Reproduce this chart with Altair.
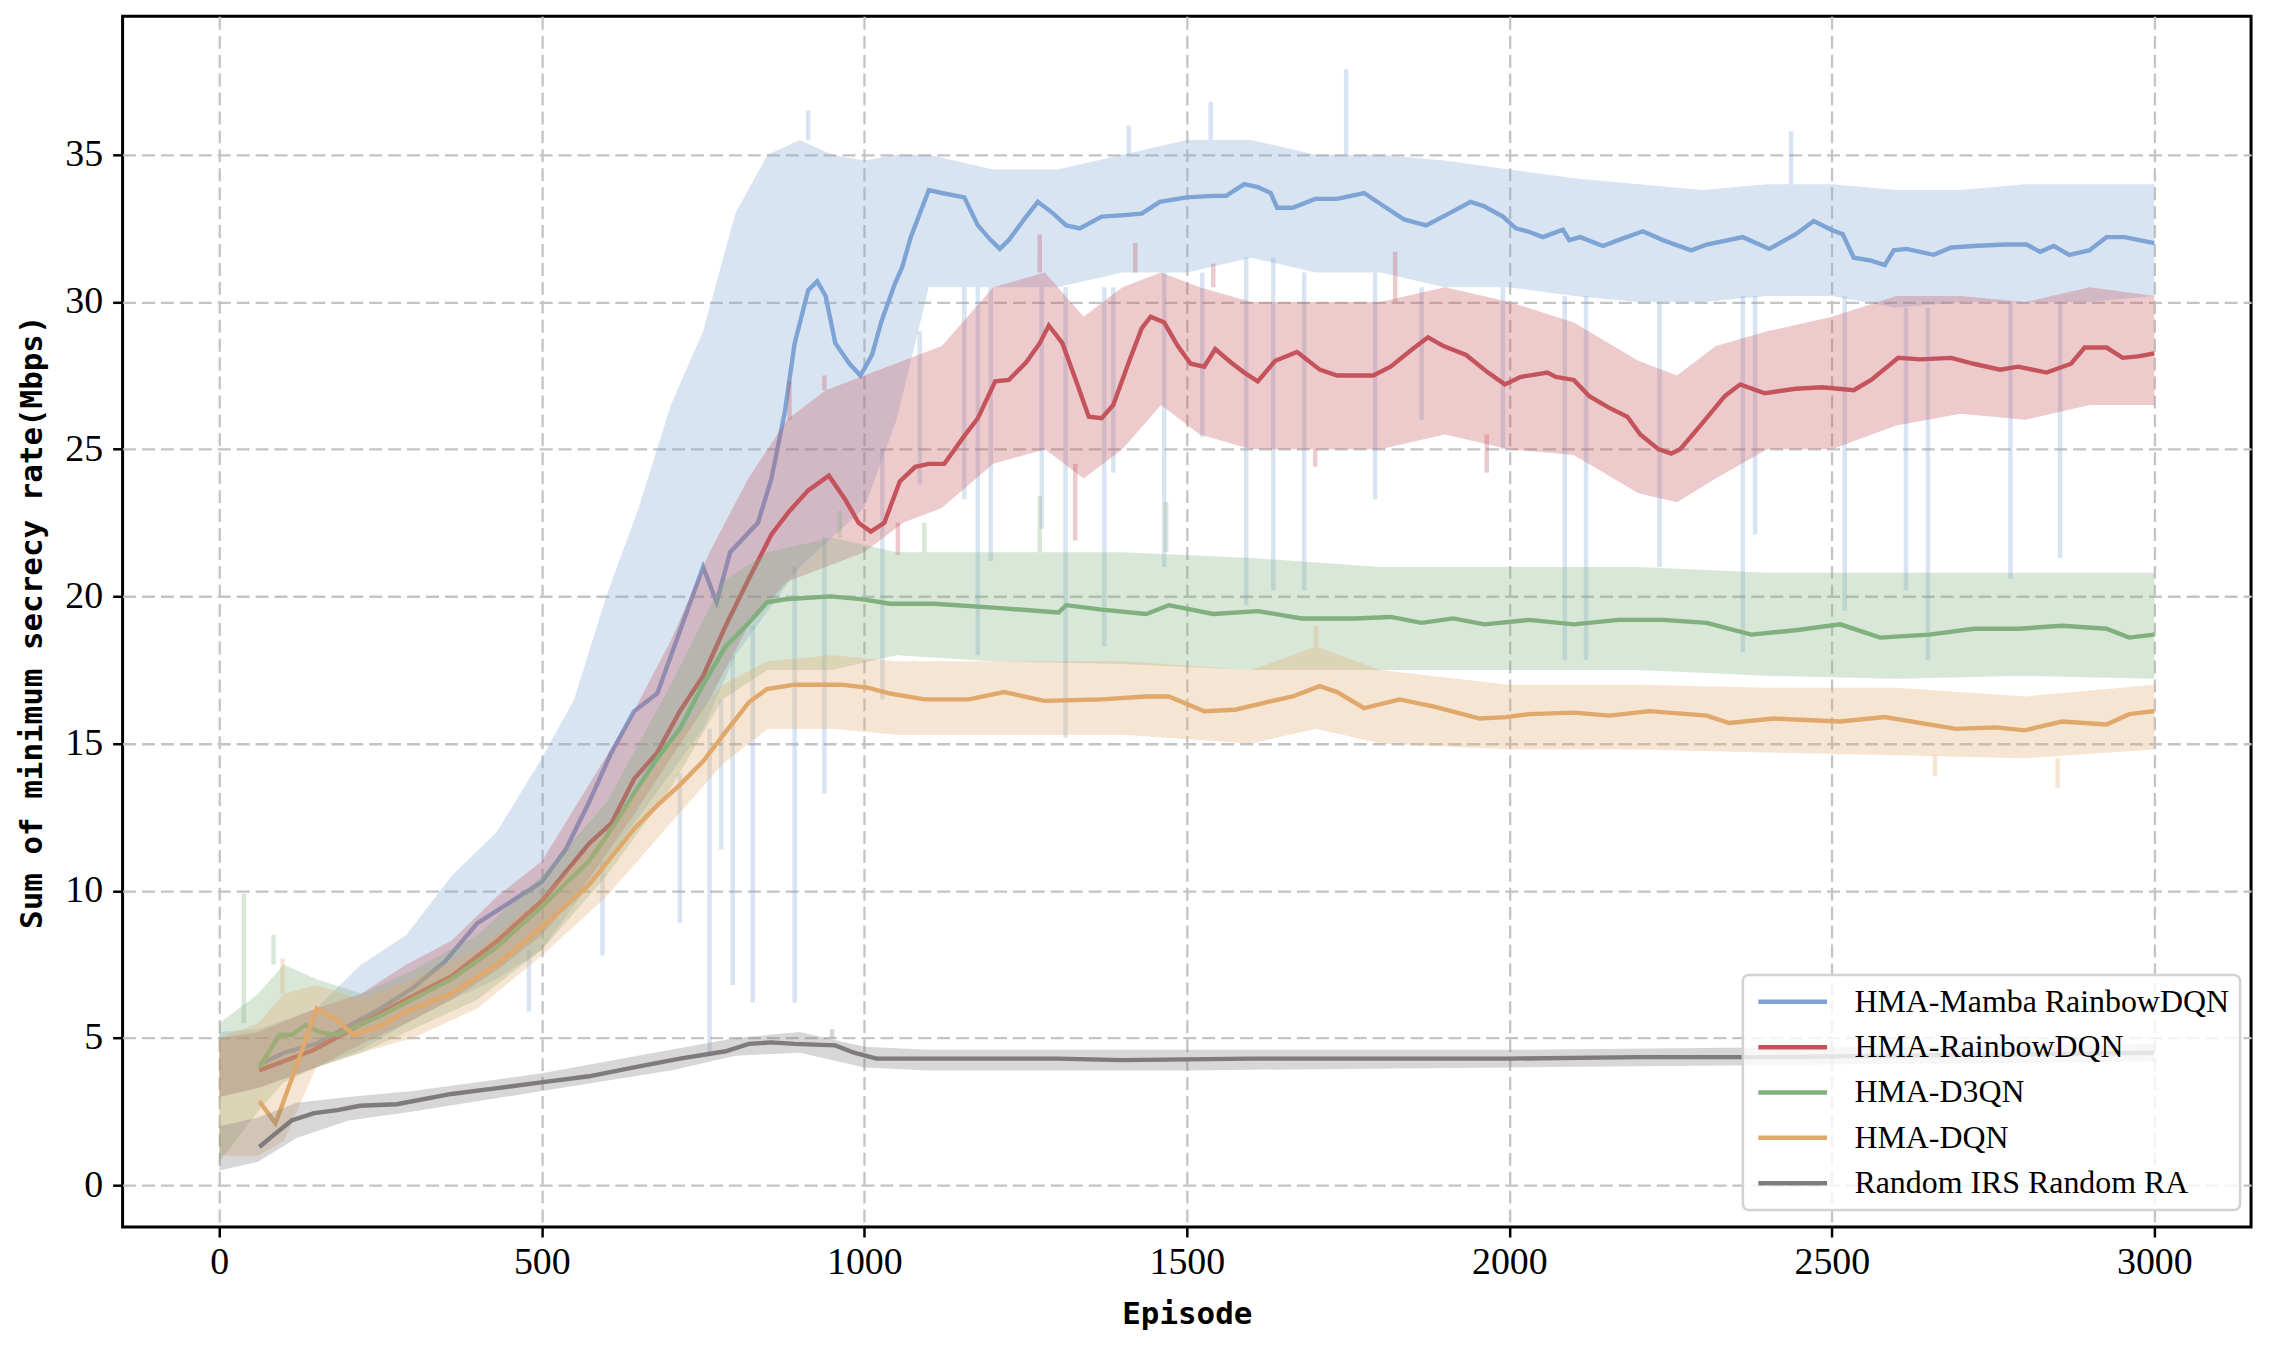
import altair as alt
import pandas as pd

NAMES = ["HMA-Mamba RainbowDQN", "HMA-RainbowDQN", "HMA-D3QN", "HMA-DQN", "Random IRS Random RA"]
COLORS = ["#7da4d5", "#c4535b", "#7fb07d", "#e0a86b", "#7f7a7c"]

X_TICKS = [0, 500, 1000, 1500, 2000, 2500, 3000]
Y_TICKS = [0, 5, 10, 15, 20, 25, 30, 35]

# ---- smoothed curves: (episode, value) ----
mamba_line = [(62, 4.1), (100, 4.5), (150, 4.8), (200, 5.4), (250, 6.0), (300, 6.7), (350, 7.6), (400, 8.9),
              (450, 9.6), (500, 10.3), (537, 11.4), (573, 13.0), (608, 14.7), (643, 16.1), (679, 16.7), (707, 18.4),
              (750, 21.0), (771, 19.8), (792, 21.5), (835, 22.5), (856, 24.0), (877, 26.3), (892, 28.6), (913, 30.4),
              (927, 30.7), (940, 30.2), (955, 28.6), (977, 27.9), (994, 27.5), (1012, 28.2), (1026, 29.3), (1047, 30.6),
              (1059, 31.2), (1072, 32.2), (1100, 33.8), (1120, 33.7), (1155, 33.55), (1176, 32.6), (1196, 32.1),
              (1210, 31.8), (1224, 32.1), (1251, 32.9), (1269, 33.4), (1293, 33.0), (1313, 32.6), (1334, 32.5),
              (1368, 32.9), (1403, 32.95), (1430, 33.0), (1458, 33.4), (1500, 33.55), (1541, 33.6), (1561, 33.6),
              (1589, 34.0), (1610, 33.9), (1630, 33.7), (1640, 33.2), (1664, 33.2), (1699, 33.5), (1733, 33.5),
              (1775, 33.7), (1802, 33.3), (1837, 32.8), (1871, 32.6), (1906, 33.0), (1940, 33.4), (1961, 33.25),
              (1990, 32.9), (2010, 32.5), (2028, 32.4), (2052, 32.2), (2083, 32.45), (2093, 32.1), (2110, 32.2),
              (2145, 31.9), (2169, 32.1), (2207, 32.4), (2238, 32.1), (2282, 31.75), (2306, 31.95), (2362, 32.2),
              (2403, 31.8), (2444, 32.3), (2472, 32.75), (2499, 32.45), (2517, 32.3), (2534, 31.5), (2561, 31.4),
              (2582, 31.25), (2596, 31.75), (2616, 31.8), (2658, 31.6), (2685, 31.85), (2720, 31.9), (2768, 31.95),
              (2802, 31.95), (2823, 31.7), (2844, 31.9), (2868, 31.6), (2899, 31.75), (2926, 32.2), (2954, 32.2),
              (3000, 32.0)]

rainbow_line = [(62, 3.9), (147, 4.6), (218, 5.45), (289, 6.3), (360, 7.1), (431, 8.3), (502, 9.7), (573, 11.6),
                (608, 12.3), (643, 13.8), (679, 14.7), (714, 16.1), (750, 17.3), (785, 19.0), (821, 20.6), (856, 22.1),
                (884, 22.9), (913, 23.6), (945, 24.1), (970, 23.3), (991, 22.5), (1010, 22.2), (1031, 22.5),
                (1055, 23.9), (1079, 24.4), (1100, 24.5), (1124, 24.5), (1155, 25.45), (1176, 26.05), (1203, 27.3),
                (1224, 27.35), (1251, 27.95), (1272, 28.6), (1286, 29.2), (1307, 28.6), (1327, 27.4), (1348, 26.1),
                (1368, 26.05), (1386, 26.5), (1410, 27.95), (1430, 29.1), (1444, 29.5), (1465, 29.3), (1486, 28.5),
                (1506, 27.9), (1527, 27.8), (1544, 28.4), (1568, 27.95), (1589, 27.6), (1610, 27.3), (1637, 28.0),
                (1671, 28.3), (1706, 27.7), (1733, 27.5), (1789, 27.5), (1816, 27.8), (1850, 28.4), (1874, 28.8),
                (1898, 28.5), (1933, 28.2), (1967, 27.6), (1993, 27.2), (2017, 27.45), (2059, 27.6), (2072, 27.45),
                (2100, 27.35), (2124, 26.8), (2155, 26.4), (2183, 26.1), (2203, 25.5), (2231, 25.0), (2251, 24.85),
                (2265, 25.0), (2300, 25.9), (2334, 26.8), (2358, 27.2), (2396, 26.9), (2444, 27.05), (2485, 27.1),
                (2534, 27.0), (2561, 27.35), (2603, 28.1), (2637, 28.05), (2685, 28.1), (2720, 27.9), (2761, 27.7),
                (2789, 27.8), (2833, 27.6), (2871, 27.9), (2892, 28.45), (2926, 28.45), (2951, 28.1), (2975, 28.15),
                (3000, 28.25)]

d3qn_line = [(62, 4.0), (93, 5.1), (112, 5.1), (134, 5.45), (155, 5.2), (183, 5.1), (218, 5.45), (254, 5.8),
             (289, 6.2), (360, 7.0), (431, 8.1), (502, 9.5), (573, 11.0), (608, 12.1), (643, 13.3), (679, 14.5),
             (714, 15.5), (750, 17.0), (785, 18.3), (821, 19.1), (849, 19.8), (877, 19.9), (948, 20.0), (998, 19.9),
             (1040, 19.75), (1108, 19.75), (1211, 19.6), (1301, 19.45), (1313, 19.7), (1368, 19.55), (1437, 19.4),
             (1472, 19.7), (1541, 19.4), (1610, 19.5), (1678, 19.25), (1761, 19.25), (1816, 19.3), (1864, 19.1),
             (1913, 19.25), (1961, 19.05), (2031, 19.2), (2100, 19.05), (2169, 19.2), (2238, 19.2), (2306, 19.1),
             (2375, 18.7), (2444, 18.85), (2513, 19.05), (2575, 18.6), (2651, 18.7), (2720, 18.9), (2789, 18.9),
             (2857, 19.0), (2926, 18.9), (2961, 18.6), (3000, 18.7)]

dqn_line = [(62, 2.85), (87, 2.1), (112, 3.6), (151, 6.0), (183, 5.6), (208, 5.1), (254, 5.45), (289, 5.9),
            (360, 6.5), (431, 7.5), (502, 8.8), (573, 10.2), (643, 12.1), (679, 12.9), (714, 13.6), (750, 14.4),
            (785, 15.4), (821, 16.4), (849, 16.85), (892, 17.0), (963, 17.0), (1005, 16.9), (1040, 16.7),
            (1093, 16.5), (1162, 16.5), (1217, 16.75), (1279, 16.45), (1368, 16.5), (1437, 16.6), (1472, 16.6),
            (1527, 16.1), (1575, 16.15), (1623, 16.4), (1664, 16.6), (1706, 16.95), (1733, 16.75), (1775, 16.2),
            (1830, 16.5), (1885, 16.25), (1954, 15.85), (1995, 15.9), (2031, 16.0), (2100, 16.05), (2155, 15.95),
            (2217, 16.1), (2306, 15.95), (2341, 15.7), (2410, 15.85), (2513, 15.75), (2582, 15.9), (2692, 15.5),
            (2754, 15.55), (2799, 15.45), (2857, 15.75), (2926, 15.65), (2961, 16.0), (3000, 16.1)]

random_line = [(62, 1.3), (84, 1.7), (112, 2.2), (147, 2.45), (183, 2.55), (218, 2.7), (275, 2.75), (360, 3.1),
               (431, 3.3), (502, 3.5), (573, 3.7), (643, 4.0), (714, 4.3), (785, 4.55), (821, 4.8), (856, 4.85),
               (892, 4.8), (955, 4.75), (984, 4.5), (1019, 4.3), (1079, 4.3), (1300, 4.3), (1400, 4.25),
               (1600, 4.3), (1800, 4.3), (2000, 4.3), (2200, 4.35), (2400, 4.35), (2600, 4.4), (2800, 4.45),
               (3000, 4.5)]

# ---- raw-trace envelopes: (episode, low, high) ----
mamba_band = [(0, 3.0, 5.2), (60, 3.3, 5.3), (150, 4.0, 6.0), (220, 4.6, 7.5), (290, 5.5, 8.5), (360, 6.3, 10.5),
              (430, 7.0, 12.0), (500, 8.0, 14.5), (550, 9.5, 16.5), (600, 11.0, 20.0), (650, 12.5, 23.0),
              (700, 14.0, 26.5), (750, 15.5, 29.0), (800, 18.0, 33.0), (850, 19.5, 35.0), (900, 21.0, 35.5),
              (950, 22.0, 35.0), (1000, 23.0, 34.8), (1050, 26.0, 35.0), (1100, 30.5, 35.0), (1200, 30.5, 34.5),
              (1300, 30.5, 34.5), (1400, 31.0, 35.0), (1500, 31.0, 35.5), (1600, 31.5, 35.5), (1700, 31.0, 35.0),
              (1800, 31.0, 35.0), (1900, 30.5, 34.8), (2000, 30.5, 34.5), (2100, 30.2, 34.2), (2200, 30.0, 34.0),
              (2300, 30.0, 33.8), (2400, 30.2, 34.0), (2500, 30.2, 34.0), (2600, 29.8, 33.8), (2700, 30.0, 33.8),
              (2800, 30.0, 34.0), (2900, 30.0, 34.0), (3000, 30.2, 34.0)]

rainbow_band = [(0, 3.0, 5.0), (60, 3.3, 5.2), (150, 4.0, 6.0), (220, 4.8, 6.5), (290, 5.5, 7.5), (360, 6.3, 8.3),
                (430, 7.3, 9.8), (500, 8.5, 11.0), (570, 10.3, 13.5), (640, 12.5, 16.0), (700, 14.5, 18.5),
                (760, 16.5, 21.5), (820, 19.0, 24.0), (880, 20.5, 26.0), (940, 21.0, 27.0), (1000, 21.5, 27.5),
                (1060, 22.5, 28.0), (1120, 23.0, 28.5), (1200, 24.5, 30.5), (1280, 25.0, 31.0), (1340, 24.0, 29.5),
                (1400, 25.0, 30.5), (1460, 26.5, 31.0), (1520, 25.5, 30.5), (1600, 25.0, 30.0), (1700, 25.0, 30.0),
                (1800, 25.0, 30.0), (1900, 25.5, 30.5), (2000, 25.0, 30.0), (2100, 24.8, 29.3), (2200, 23.5, 28.0),
                (2260, 23.2, 27.5), (2320, 24.0, 28.5), (2400, 25.0, 29.0), (2500, 25.0, 29.5), (2600, 25.8, 30.2),
                (2700, 26.2, 30.2), (2800, 26.0, 30.0), (2900, 26.5, 30.5), (3000, 26.5, 30.2)]

d3qn_band = [(0, 0.8, 5.5), (60, 2.5, 6.5), (100, 3.5, 7.5), (150, 4.0, 7.0), (220, 4.5, 6.5), (300, 5.3, 7.3),
             (400, 6.3, 8.5), (500, 8.0, 10.5), (600, 10.5, 13.0), (700, 13.5, 17.0), (780, 16.5, 20.5),
             (850, 17.5, 21.5), (950, 17.5, 22.0), (1050, 18.0, 21.5), (1200, 17.8, 21.5), (1400, 17.7, 21.5),
             (1600, 17.5, 21.3), (1800, 17.5, 21.0), (2000, 17.5, 21.0), (2200, 17.5, 21.0), (2400, 17.3, 20.8),
             (2600, 17.2, 20.8), (2800, 17.3, 20.8), (3000, 17.2, 20.8)]

dqn_band = [(0, 1.0, 5.0), (60, 1.0, 5.5), (100, 1.5, 6.5), (150, 4.0, 6.8), (220, 4.5, 6.3), (300, 5.0, 7.0),
            (400, 6.0, 8.0), (500, 7.8, 9.8), (600, 9.8, 12.0), (700, 12.3, 15.0), (780, 14.3, 17.0),
            (850, 15.5, 17.8), (950, 15.5, 18.0), (1050, 15.3, 17.8), (1200, 15.3, 17.8), (1400, 15.3, 17.8),
            (1600, 15.0, 17.5), (1700, 15.5, 18.3), (1800, 15.0, 17.5), (2000, 14.8, 17.0), (2200, 14.8, 17.0),
            (2400, 14.7, 16.9), (2600, 14.6, 16.9), (2800, 14.5, 16.6), (3000, 14.8, 17.0)]

random_band = [(0, 0.5, 2.0), (60, 0.8, 2.3), (120, 1.6, 2.8), (200, 2.2, 3.0), (300, 2.5, 3.2), (500, 3.2, 3.8),
               (700, 3.9, 4.6), (800, 4.4, 5.0), (900, 4.5, 5.2), (1000, 4.0, 4.7), (1100, 3.9, 4.6),
               (1500, 3.9, 4.6), (2000, 4.0, 4.6), (2500, 4.1, 4.7), (3000, 4.2, 4.8)]

# ---- isolated spikes of the raw traces: (episode, spike end, band edge) ----
mamba_spikes = [(480, 5.9, 8.0), (594, 7.8, 11.0), (714, 8.9, 14.0), (760, 4.5, 15.5), (778, 11.4, 16.5),
                (796, 6.8, 18.0), (827, 6.2, 19.0), (892, 6.2, 21.0), (938, 13.3, 22.0), (1028, 16.5, 25.0),
                (1086, 23.8, 29.0), (1155, 23.3, 30.5), (1176, 18.0, 30.5), (1196, 21.2, 30.5), (1275, 22.3, 30.5),
                (1312, 15.2, 30.5), (1372, 18.3, 30.5), (1386, 24.2, 30.5), (1465, 21.0, 31.0), (1524, 25.4, 31.0),
                (1592, 19.7, 31.5), (1634, 20.2, 31.5), (1682, 20.2, 31.0), (1792, 23.3, 31.0), (1864, 26.0, 30.5),
                (1990, 25.0, 30.5), (2086, 17.85, 30.2), (2119, 17.85, 30.2), (2233, 21.0, 30.0), (2362, 18.1, 30.2),
                (2381, 22.1, 30.2), (2520, 19.5, 30.2), (2615, 20.2, 29.8), (2649, 17.85, 29.8), (2777, 20.6, 30.0),
                (2854, 21.3, 30.0),
                (913, 36.5, 35.5), (1410, 36.0, 35.0), (1537, 36.8, 35.5), (1747, 37.9, 35.0), (2437, 35.8, 34.0)]

rainbow_spikes = [(1052, 21.4, 22.5), (1327, 21.9, 24.5), (1699, 24.4, 25.0), (1965, 24.2, 25.5),
                  (884, 27.3, 26.0), (938, 27.5, 27.0), (1272, 32.3, 31.0), (1420, 32.0, 31.0),
                  (1541, 31.3, 30.5), (1823, 31.7, 30.0)]

d3qn_spikes = [(38, 9.9, 5.5), (84, 8.5, 7.5), (962, 22.9, 22.0), (1093, 22.5, 21.5), (1272, 23.4, 21.5),
               (1468, 23.2, 21.5)]

dqn_spikes = [(98, 7.7, 6.5), (1700, 19.0, 18.3), (2660, 13.9, 14.6), (2850, 13.5, 14.5)]

random_spikes = [(950, 5.3, 5.0)]

LINES = [mamba_line, rainbow_line, d3qn_line, dqn_line, random_line]
BANDS = [mamba_band, rainbow_band, d3qn_band, dqn_band, random_band]
SPIKES = [mamba_spikes, rainbow_spikes, d3qn_spikes, dqn_spikes, random_spikes]

SERIF = "Liberation Serif"
MONO = "DejaVu Sans Mono"

x_enc = alt.X("ep:Q",
              scale=alt.Scale(domain=[-150, 3150], nice=False, zero=False),
              axis=alt.Axis(values=X_TICKS, format="d", title="Episode", titlePadding=18, labelPadding=7))
y_axis = alt.Axis(values=Y_TICKS, format="d", title="Sum of minimum secrecy rate(Mbps)",
                  titlePadding=16, labelPadding=10)
y_scale = alt.Scale(domain=[-1.42, 39.7], nice=False, zero=False)

layers = []
for name, color, line, band, spikes in zip(NAMES, COLORS, LINES, BANDS, SPIKES):
    bdf = pd.DataFrame(band, columns=["ep", "lo", "hi"])
    layers.append(
        alt.Chart(bdf).mark_area(color=color, opacity=0.3, clip=True).encode(
            x=x_enc, y=alt.Y("lo:Q", scale=y_scale, axis=y_axis), y2="hi:Q")
    )
    sdf = pd.DataFrame(spikes, columns=["ep", "a", "b"])
    layers.append(
        alt.Chart(sdf).mark_rule(color=color, opacity=0.3, strokeWidth=4.5, clip=True).encode(
            x=x_enc, y=alt.Y("a:Q", scale=y_scale, axis=y_axis), y2="b:Q")
    )
    ldf = pd.DataFrame(line, columns=["ep", "v"])
    ldf["series"] = name
    layers.append(
        alt.Chart(ldf).mark_line(strokeWidth=4.4, clip=True).encode(
            x=x_enc,
            y=alt.Y("v:Q", scale=y_scale, axis=y_axis),
            color=alt.Color("series:N",
                            scale=alt.Scale(domain=NAMES, range=COLORS),
                            legend=alt.Legend(title=None, orient="none", legendX=1626, legendY=962,
                                              symbolType="M-1,0H5", symbolSize=529,
                                              symbolStrokeWidth=4.5, labelOffset=69)),
            order=alt.Order("ep:Q"),
        )
    )

chart = alt.layer(*layers).properties(
    width=2136, height=1215,
    autosize=alt.AutoSizeParams(type="none"),
    padding={"left": 115, "top": 6, "right": 17, "bottom": 108},
).configure_view(
    stroke="black", strokeWidth=3
).configure_axis(
    domain=False,
    grid=True, gridColor="#c4c4c4", gridDash=[13, 6], gridWidth=2.3,
    ticks=True, tickColor="black", tickWidth=2.5, tickSize=10,
    labelFont=SERIF, labelFontSize=38, labelColor="black",
    titleFont=MONO, titleFontSize=31, titleFontWeight="bold", titleColor="black",
).configure_legend(
    labelFont=SERIF, labelFontSize=32, labelColor="black", labelLimit=0,
    rowPadding=13.5, padding=11, strokeColor="#d2d2d2", strokeWidth=2.5,
    fillColor="rgba(255,255,255,0.8)", cornerRadius=6, symbolOpacity=1,
)

chart.save("out.html", embed_options={"renderer": "svg", "actions": False})
